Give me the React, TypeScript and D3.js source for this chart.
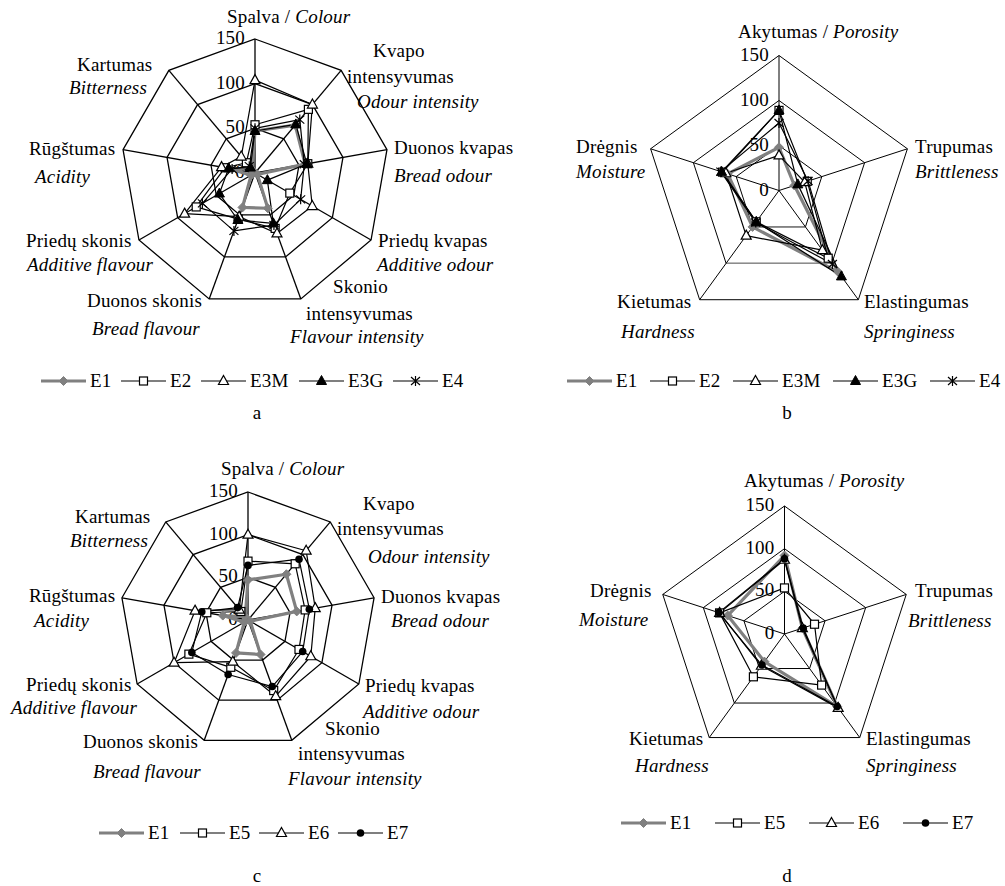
import React from "react";
import * as d3 from "d3";

// ---------------- DATA ----------------
const tickValues = [0, 50, 100, 150];

// Sensory attributes (charts a, c)
const sensoryLt = ["Spalva", "Kvapo intensyvumas", "Duonos kvapas", "Priedų kvapas", "Skonio intensyvumas", "Duonos skonis", "Priedų skonis", "Rūgštumas", "Kartumas"];
const sensoryEn = ["Colour", "Odour intensity", "Bread odour", "Additive odour", "Flavour intensity", "Bread flavour", "Additive flavour", "Acidity", "Bitterness"];

// Texture attributes (charts b, d)
const textureLt = ["Akytumas", "Trupumas", "Elastingumas", "Kietumas", "Drėgnis"];
const textureEn = ["Porosity", "Brittleness", "Springiness", "Hardness", "Moisture"];

// Chart a
const seriesNamesA = ["E1", "E2", "E3M", "E3G", "E4"];
const aE1 = [47, 70, 57, 3, 42, 41, 5, 30, 5];
const aE2 = [54, 93, 60, 45, 66, 55, 76, 34, 15];
const aE3M = [104, 100, 60, 74, 72, 52, 91, 38, 24];
const aE3G = [47, 71, 59, 16, 60, 56, 46, 30, 8];
const aE4 = [50, 78, 56, 59, 62, 69, 68, 26, 10];

// Chart b
const bE1 = [48, 18, 112, 50, 60];
const bE2 = [89, 33, 93, 43, 66];
const bE3M = [39, 30, 82, 62, 62];
const bE3G = [89, 22, 118, 43, 67];
const bE4 = [75, 34, 101, 44, 68];

// Chart c
const seriesNamesC = ["E1", "E5", "E6", "E7"];
const cE1 = [47, 70, 58, 3, 43, 41, 5, 30, 5];
const cE5 = [69, 86, 68, 69, 88, 59, 80, 49, 13];
const cE6 = [100, 106, 80, 85, 95, 52, 100, 63, 16];
const cE7 = [64, 93, 73, 74, 83, 68, 76, 55, 19];

// Chart d
const dE1 = [92, 22, 105, 40, 70];
const dE5 = [54, 37, 74, 62, 80];
const dE6 = [87, 22, 107, 46, 80];
const dE7 = [88, 23, 105, 45, 81];

// ---------------- STYLE / LAYOUT ----------------
const FONT = '"Liberation Serif"';
const FS = 19;
const LS = 0.2;

const markerKindsA = ["diamond", "square", "triangle", "triangleFilled", "asterisk"];
const markerKindsC = ["diamond", "square", "triangle", "circle"];

type Part = [string, boolean];
type Label = { x: number; y: number; parts: Part[] };

const lbl = (x: number, y: number, text: string, italic = false): Label => ({ x, y, parts: [[text, italic]] });

function sensoryTitle(x: number, y: number): Label {
  return { x, y, parts: [[sensoryLt[0], false], [" / ", false], [sensoryEn[0], true]] };
}
function textureTitle(x: number, y: number): Label {
  return { x, y, parts: [[textureLt[0], false], [" / ", false], [textureEn[0], true]] };
}

const labelsA: Label[] = [
  sensoryTitle(227, 23),
  lbl(373, 57, "Kvapo"), lbl(347, 83, "intensyvumas"), lbl(357, 108, sensoryEn[1], true),
  lbl(394, 154, sensoryLt[2]), lbl(394, 182, sensoryEn[2], true),
  lbl(378, 247, sensoryLt[3]), lbl(377, 271, sensoryEn[3], true),
  lbl(333, 293, "Skonio"), lbl(306, 320, "intensyvumas"), lbl(290, 343, sensoryEn[4], true),
  lbl(87, 307, sensoryLt[5]), lbl(92, 335, sensoryEn[5], true),
  lbl(26, 247, sensoryLt[6]), lbl(27, 271, sensoryEn[6], true),
  lbl(29, 155, sensoryLt[7]), lbl(35, 183, sensoryEn[7], true),
  lbl(77, 71, sensoryLt[8]), lbl(69, 94, sensoryEn[8], true),
];

const labelsC: Label[] = [
  sensoryTitle(221, 475),
  lbl(363, 510, "Kvapo"), lbl(337, 535, "intensyvumas"), lbl(368, 563, sensoryEn[1], true),
  lbl(381, 603, sensoryLt[2]), lbl(391, 627, sensoryEn[2], true),
  lbl(365, 692, sensoryLt[3]), lbl(363, 718, sensoryEn[3], true),
  lbl(325, 735, "Skonio"), lbl(298, 760, "intensyvumas"), lbl(288, 785, sensoryEn[4], true),
  lbl(83, 748, sensoryLt[5]), lbl(93, 778, sensoryEn[5], true),
  lbl(26, 691, sensoryLt[6]), lbl(11, 714, sensoryEn[6], true),
  lbl(29, 602, sensoryLt[7]), lbl(34, 627, sensoryEn[7], true),
  lbl(75, 523, sensoryLt[8]), lbl(70, 547, sensoryEn[8], true),
];

const labelsB: Label[] = [
  textureTitle(738, 38),
  lbl(915, 153, textureLt[1]), lbl(915, 178, textureEn[1], true),
  lbl(864, 308, textureLt[2]), lbl(864, 338, textureEn[2], true),
  lbl(617, 308, textureLt[3]), lbl(621, 338, textureEn[3], true),
  lbl(576, 153, textureLt[4]), lbl(576, 178, textureEn[4], true),
];

const labelsD: Label[] = [
  textureTitle(744, 487),
  lbl(915, 597, textureLt[1]), lbl(908, 627, textureEn[1], true),
  lbl(866, 745, textureLt[2]), lbl(866, 772, textureEn[2], true),
  lbl(629, 745, textureLt[3]), lbl(635, 772, textureEn[3], true),
  lbl(590, 597, textureLt[4]), lbl(579, 626, textureEn[4], true),
];

function Marker({ kind, x, y }: { kind: string; x: number; y: number }) {
  switch (kind) {
    case "diamond":
      return <path d={`M${x},${y - 4.5}L${x + 4.5},${y}L${x},${y + 4.5}L${x - 4.5},${y}Z`} fill="#808080" stroke="#808080" />;
    case "square":
      return <rect x={x - 4} y={y - 4} width={8} height={8} fill="#fff" stroke="#000" strokeWidth={1.2} />;
    case "triangle":
      return <path d={`M${x},${y - 5.5}L${x + 5},${y + 3.5}L${x - 5},${y + 3.5}Z`} fill="#fff" stroke="#000" strokeWidth={1.2} />;
    case "triangleFilled":
      return <path d={`M${x},${y - 5.5}L${x + 5},${y + 3.5}L${x - 5},${y + 3.5}Z`} fill="#000" stroke="#000" strokeWidth={1} />;
    case "asterisk":
      return <path d={`M${x},${y - 5}V${y + 5}M${x - 4.5},${y - 4}L${x + 4.5},${y + 4}M${x - 4.5},${y + 4}L${x + 4.5},${y - 4}`} stroke="#000" strokeWidth={1.2} fill="none" />;
    case "circle":
      return <circle cx={x} cy={y} r={3.8} fill="#000" />;
    default:
      return null;
  }
}

const ts = { fontFamily: FONT, fontSize: FS, letterSpacing: LS };

function LabelText({ l }: { l: Label }) {
  return (
    <text x={l.x} y={l.y} style={ts} fill="#000">
      {l.parts.map((p, i) => (
        <tspan key={i} style={{ fontStyle: p[1] ? "italic" : "normal" }}>{p[0]}</tspan>
      ))}
    </text>
  );
}

type RadarProps = {
  cx: number; cy: number; R: number; gridW: number; greyBottom?: boolean;
  series: number[][]; names: string[]; kinds: string[];
  labels: Label[]; legendX: number[]; legendY: number;
  caption: string; captionX: number; captionY: number;
};

function Radar(p: RadarProps) {
  const n = p.series[0].length;
  const r = d3.scaleLinear().domain([0, 150]).range([0, p.R]);
  const ang = (i: number) => (2 * Math.PI * i) / n;
  const pt = (i: number, v: number): [number, number] => [p.cx + r(v) * Math.sin(ang(i)), p.cy - r(v) * Math.cos(ang(i))];
  const radial = d3.lineRadial<number>().angle((_d, i) => ang(i)).radius((d) => r(d)).curve(d3.curveLinearClosed);
  const rings = tickValues.filter((t) => t > 0);
  const idx = d3.range(n);
  const bottomA = Math.floor(n / 2), bottomB = Math.ceil(n / 2);

  return (
    <g>
      <g transform={`translate(${p.cx},${p.cy})`}>
        {rings.map((t) => (
          <path key={t} d={radial(idx.map(() => t)) || ""} fill="none" stroke="#000" strokeWidth={p.gridW} />
        ))}
      </g>
      {p.greyBottom && [50, 100].map((t) => {
        const a = pt(bottomA, t), b = pt(bottomB, t);
        return <line key={"g" + t} x1={a[0]} y1={a[1]} x2={b[0]} y2={b[1]} stroke="#8c8c8c" strokeWidth={p.gridW + 0.3} />;
      })}
      {idx.map((i) => {
        const [x, y] = pt(i, 150);
        return <line key={"s" + i} x1={p.cx} y1={p.cy} x2={x} y2={y} stroke="#000" strokeWidth={p.gridW} />;
      })}
      {tickValues.map((t) => (
        <text key={"t" + t} x={p.cx - 10} y={p.cy - r(t) + 5} textAnchor="end" style={ts} fill="#000">{t}</text>
      ))}
      <g transform={`translate(${p.cx},${p.cy})`}>
        {p.series.map((s, si) => (
          <path key={"p" + si} d={radial(s) || ""} fill="none"
            stroke={si === 0 ? "#808080" : "#000"} strokeWidth={si === 0 ? 3.2 : 1.2} strokeLinejoin="round" />
        ))}
      </g>
      {p.series.map((s, si) => (
        <g key={"m" + si}>
          {s.map((v, i) => {
            const [x, y] = pt(i, v);
            return <Marker key={i} kind={p.kinds[si]} x={x} y={y} />;
          })}
        </g>
      ))}
      {p.labels.map((l, i) => <LabelText key={"l" + i} l={l} />)}
      {p.names.map((nm, i) => {
        const x0 = p.legendX[i];
        return (
          <g key={"lg" + i}>
            <line x1={x0} y1={p.legendY} x2={x0 + 45} y2={p.legendY}
              stroke={i === 0 ? "#808080" : "#000"} strokeWidth={i === 0 ? 3.2 : 1.2} />
            <Marker kind={p.kinds[i]} x={x0 + 22.5} y={p.legendY} />
            <text x={x0 + 49} y={p.legendY + 6} style={ts}>{nm}</text>
          </g>
        );
      })}
      <text x={p.captionX} y={p.captionY} textAnchor="middle" style={ts}>{p.caption}</text>
    </g>
  );
}

export default function App() {
  return (
    <svg width={1005} height={886} viewBox="0 0 1005 886"
      style={{ position: "absolute", left: 0, top: 0, background: "#fff" }}>
      <rect width={1005} height={886} fill="#fff" />
      <Radar cx={255} cy={173} R={134} gridW={1.3}
        series={[aE1, aE2, aE3M, aE3G, aE4]} names={seriesNamesA} kinds={markerKindsA}
        labels={labelsA} legendX={[41, 121, 201, 299, 393]} legendY={381}
        caption="a" captionX={257} captionY={419} />
      <Radar cx={779} cy={190.5} R={135} gridW={1} greyBottom
        series={[bE1, bE2, bE3M, bE3G, bE4]} names={seriesNamesA} kinds={markerKindsA}
        labels={labelsB} legendX={[567, 650, 733, 833, 930]} legendY={381}
        caption="b" captionX={787} captionY={419} />
      <Radar cx={248} cy={620} R={128} gridW={1.3}
        series={[cE1, cE5, cE6, cE7]} names={seriesNamesC} kinds={markerKindsC}
        labels={labelsC} legendX={[99, 180, 259, 338]} legendY={833}
        caption="c" captionX={257} captionY={882} />
      <Radar cx={784.5} cy={634} R={128} gridW={1}
        series={[dE1, dE5, dE6, dE7]} names={seriesNamesC} kinds={markerKindsC}
        labels={labelsD} legendX={[621, 715, 809, 903]} legendY={823}
        caption="d" captionX={787} captionY={882} />
    </svg>
  );
}
